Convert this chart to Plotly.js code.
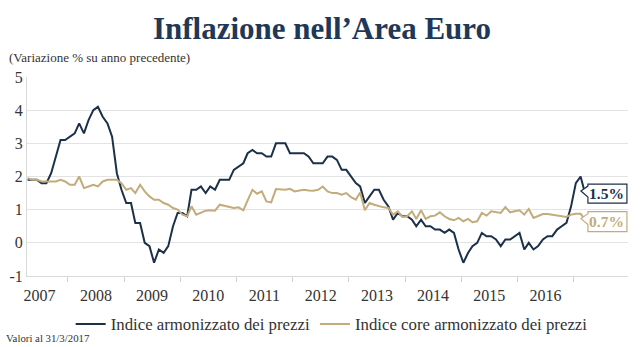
<!DOCTYPE html>
<html>
<head>
<meta charset="utf-8">
<script src="https://cdn.plot.ly/plotly-3.0.1.min.js"></script>
<style>html,body{margin:0;padding:0;background:#fff;}#chart{width:644px;height:347px;}</style>
</head>
<body>
<div id="chart"></div>
<script>
// Monthly data, April 2007 - March 2017
const startYear = 2007;
const startMonth = 4;

const headline = [
  1.9, 1.9, 1.9, 1.8, 1.8, 2.1, 2.6, 3.1, 3.1,
  3.2, 3.3, 3.6, 3.3, 3.7, 4.0, 4.1, 3.8, 3.6, 3.2, 2.1, 1.6,
  1.2, 1.2, 0.6, 0.6, 0.0, -0.1, -0.6, -0.2, -0.3, -0.1, 0.5, 0.9,
  0.9, 0.8, 1.6, 1.6, 1.7, 1.5, 1.7, 1.6, 1.9, 1.9, 1.9, 2.2,
  2.3, 2.4, 2.7, 2.8, 2.7, 2.7, 2.6, 2.6, 3.0, 3.0, 3.0, 2.7,
  2.7, 2.7, 2.7, 2.6, 2.4, 2.4, 2.4, 2.6, 2.6, 2.5, 2.2, 2.2,
  2.0, 1.8, 1.7, 1.2, 1.4, 1.6, 1.6, 1.3, 1.1, 0.7, 0.9, 0.8,
  0.8, 0.7, 0.5, 0.7, 0.5, 0.5, 0.4, 0.4, 0.3, 0.4, 0.3, -0.2,
  -0.6, -0.3, -0.1, 0.0, 0.3, 0.2, 0.2, 0.1, -0.1, 0.1, 0.1, 0.2,
  0.3, -0.2, 0.0, -0.2, -0.1, 0.1, 0.2, 0.2, 0.4, 0.5, 0.6, 1.1,
  1.8, 2.0, 1.5
];

const core = [
  1.95, 1.9, 1.9, 1.85, 1.85, 1.85, 1.85, 1.9, 1.85,
  1.75, 1.75, 2.0, 1.65, 1.7, 1.75, 1.7, 1.85, 1.9, 1.9, 1.9, 1.8,
  1.6, 1.65, 1.5, 1.75, 1.55, 1.4, 1.3, 1.3, 1.2, 1.15, 1.05, 1.0,
  0.85, 0.8, 1.1, 0.85, 0.92, 0.97, 0.98, 0.97, 1.15, 1.12, 1.07, 1.05,
  1.07, 0.98, 1.28, 1.6, 1.48, 1.55, 1.25, 1.22, 1.62, 1.6, 1.6, 1.63,
  1.55, 1.58, 1.6, 1.58, 1.57, 1.6, 1.7, 1.55, 1.5, 1.5, 1.45, 1.5,
  1.38, 1.3, 1.52, 0.98, 1.2, 1.15, 1.1, 1.07, 1.05, 0.85, 0.95, 0.78,
  0.8, 0.95, 0.72, 0.98, 0.72, 0.8, 0.82, 0.92, 0.8, 0.72, 0.68, 0.75,
  0.65, 0.72, 0.62, 0.65, 0.9, 0.82, 0.95, 0.92, 0.9, 1.08, 0.92, 0.95,
  0.98, 0.85, 1.02, 0.75, 0.8, 0.87, 0.87, 0.85, 0.82, 0.8, 0.78, 0.85,
  0.88, 0.88, 0.7
];

const yearLabels = ['2007','2008','2009','2010','2011','2012','2013','2014','2015','2016'];
const yTickVals = [-1, 0, 1, 2, 3, 4, 5];
const yTickText = ['-1', '0', '1', '2', '3', '4', '5'];

const seriesNames = ['Indice armonizzato dei prezzi', 'Indice core armonizzato dei prezzi'];
const navy = '#1b3049';
const tan = '#c3ab7b';

const dates = headline.map((_, i) => {
  const m = startMonth - 1 + i;
  const y = startYear + Math.floor(m / 12);
  const mo = (m % 12) + 1;
  return y + '-' + String(mo).padStart(2, '0') + '-15';
});
const labelPos = yearLabels.map(y => y + '-07-02');
const boundaries = yearLabels.map(y => (Number(y) + 1) + '-01-01');

const lastDate = dates[dates.length - 1];
const lastH = headline[headline.length - 1];
const lastC = core[core.length - 1];

const traces = [
  {x: dates, y: headline, type: 'scatter', mode: 'lines', name: seriesNames[0],
   line: {color: navy, width: 2}},
  {x: dates, y: core, type: 'scatter', mode: 'lines', name: seriesNames[1],
   line: {color: tan, width: 2}}
];

const layout = {
  width: 644, height: 347,
  margin: {l: 27, r: 16, t: 77, b: 71, autoexpand: false},
  paper_bgcolor: '#ffffff', plot_bgcolor: '#ffffff',
  font: {family: '"Liberation Serif", "Times New Roman", serif', color: '#333333'},
  title: {text: 'Inflazione nell’Area Euro', x: 0.5, xanchor: 'center',
          y: 1 - 28 / 347, yanchor: 'middle', yref: 'container',
          font: {size: 31, color: '#1f3858', weight: 'bold', family: '"Liberation Serif", serif'}},
  showlegend: true,
  legend: {orientation: 'h', x: 0.515, xanchor: 'center', xref: 'container',
           y: 1 - 324 / 347, yanchor: 'middle', yref: 'container',
           font: {size: 16.8, color: '#333333'}, bgcolor: 'rgba(0,0,0,0)'},
  xaxis: {type: 'date', range: ['2007-04-11', '2017-12-20'],
          tickmode: 'array', tickvals: labelPos, ticktext: yearLabels, ticks: '',
          ticklabelstandoff: 5,
          showgrid: false, zeroline: false, showline: true, linecolor: '#d9d9d9', linewidth: 1,
          tickfont: {size: 16, color: '#333333'},
          minor: {tickmode: 'array', tickvals: boundaries, ticks: 'outside', ticklen: 5,
                  tickcolor: '#d0d0d0', tickwidth: 1, showgrid: false},
          fixedrange: true},
  yaxis: {range: [-1, 5], tickmode: 'array', tickvals: yTickVals, ticktext: yTickText,
          showgrid: true, gridcolor: '#e3e3e3', gridwidth: 1, zeroline: false,
          showline: true, linecolor: '#d9d9d9', ticks: '',
          tickfont: {size: 16, color: '#333333'}, fixedrange: true},
  shapes: [
    {type: 'path', xref: 'x', yref: 'y', xsizemode: 'pixel', ysizemode: 'pixel',
     xanchor: lastDate, yanchor: lastH,
     path: 'M 3 9 L 42 9 L 42 -10 L 3 -10 L 3 -4 L -4 2 L 3 7 Z',
     fillcolor: '#ffffff', line: {color: navy, width: 1.2}, layer: 'above'},
    {type: 'path', xref: 'x', yref: 'y', xsizemode: 'pixel', ysizemode: 'pixel',
     xanchor: lastDate, yanchor: lastC,
     path: 'M 3 8 L 42 8 L 42 -12 L 3 -12 L 3 -5 L -4 1 L 3 6 Z',
     fillcolor: '#ffffff', line: {color: tan, width: 1.2}, layer: 'above'}
  ],
  annotations: [
    {x: lastDate, y: lastH, xref: 'x', yref: 'y', xshift: 22, yshift: -0.5,
     text: '<b>' + lastH.toFixed(1) + '%</b>', showarrow: false,
     xanchor: 'center', yanchor: 'middle', font: {size: 15.5, color: navy}},
    {x: lastDate, y: lastC, xref: 'x', yref: 'y', xshift: 22, yshift: -2,
     text: '<b>' + lastC.toFixed(1) + '%</b>', showarrow: false,
     xanchor: 'center', yanchor: 'middle', font: {size: 15.5, color: tan}},
    {x: (7 - 27) / 601, y: (276 - 57) / 199, xref: 'paper', yref: 'paper',
     text: '(Variazione % su anno precedente)', showarrow: false,
     xanchor: 'left', yanchor: 'middle', font: {size: 13, color: '#333333'}},
    {x: (4 - 27) / 601, y: (276 - 338) / 199, xref: 'paper', yref: 'paper',
     text: 'Valori al 31/3/2017', showarrow: false,
     xanchor: 'left', yanchor: 'middle', font: {size: 10.8, color: '#333333'}}
  ]
};

Plotly.newPlot('chart', traces, layout, {displayModeBar: false, staticPlot: true});
</script>
</body>
</html>
